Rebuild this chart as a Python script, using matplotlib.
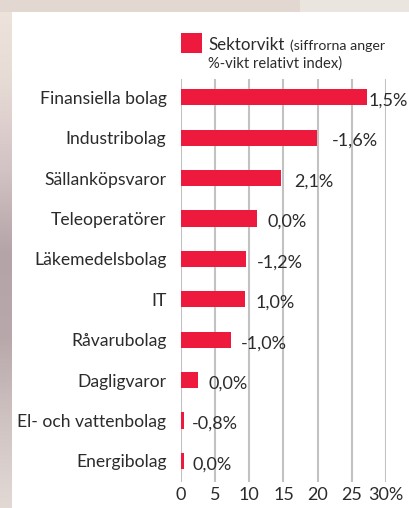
import matplotlib
matplotlib.use("Agg")
import matplotlib.pyplot as plt
import numpy as np
from matplotlib.patches import Rectangle
from matplotlib.colors import LinearSegmentedColormap

# data
sectors = ["Finansiella bolag", "Industribolag", "Sällanköpsvaror", "Teleoperatörer",
           "Läkemedelsbolag", "IT", "Råvarubolag", "Dagligvaror",
           "El- och vattenbolag", "Energibolag"]
weights = [27.2, 19.9, 14.7, 11.1, 9.5, 9.4, 7.3, 2.5, 0.4, 0.4]
relative = ["1,5%", "-1,6%", "2,1%", "0,0%", "-1,2%", "1,0%", "-1,0%", "0,0%", "-0,8%", "0,0%"]
xticks = [0, 5, 10, 15, 20, 25, 30]
xticklabels = ["0", "5", "10", "15", "20", "25", "30%"]

RED = "#ee1a3d"
TXT = "#2b2b2b"
FONT = "Lato"
plt.rcParams["font.family"] = [FONT, "DejaVu Sans"]

W, H = 410, 508
fig = plt.figure(figsize=(W / 100, H / 100), dpi=100)
fig.patch.set_facecolor("white")

# textured frame: top strip and left gradient strip
bg = fig.add_axes([0, 0, 1, 1])
bg.set_axis_off()
bg.set_xlim(0, W)
bg.set_ylim(H, 0)
cmap = LinearSegmentedColormap.from_list(
    "strip", ["#eee5dd", "#e6dad5", "#d2c3c4", "#b4a3a7", "#b8a8ab", "#d0c4c2", "#e2d9d5"])
ramp = np.linspace(0, 1, 256).reshape(-1, 1)
bg.imshow(ramp, cmap=cmap, extent=[0, 12, H, 0], aspect="auto")
bg.add_patch(Rectangle((0, 0), W, 12, color="#e2d7d1", lw=0))
bg.add_patch(Rectangle((300, 0), 110, 12, color="#ebe5e0", lw=0))

# main axes
ax = fig.add_axes([181 / W, 26 / H, 205 / W, 403 / H])
ax.set_facecolor("none")
y = np.arange(len(sectors))
ax.barh(y, weights, height=0.4, color=RED, zorder=3)

ax.set_xlim(0, 30)
ax.set_ylim(len(sectors) - 1 + 0.52, -0.45)
for t in xticks:
    ax.axvline(t, color="#c2c2c2", lw=1.5, zorder=1)
for s in ax.spines.values():
    s.set_visible(False)

ax.set_xticks(xticks)
ax.set_xticklabels(xticklabels)
ax.set_yticks(y)
ax.set_yticklabels(sectors)
ax.tick_params(axis="x", length=0, pad=3.5, labelsize=13, labelcolor=TXT)
ax.tick_params(axis="y", length=0, pad=10.5, labelsize=12.6, labelcolor=TXT)

# value labels next to bars
pads = [2, 15, 13, 11, 11, 10, 10, 10, 8, 9]
for i, (w, lab) in enumerate(zip(weights, relative)):
    ax.annotate(lab, (w, i), xytext=(pads[i] * 0.72, -2.5), textcoords="offset points",
                ha="left", va="center", fontsize=13, color=TXT, annotation_clip=False)

# legend
fig.patches.append(Rectangle((181 / W, 1 - 53 / H), 21 / W, 20 / H,
                             transform=fig.transFigure, color=RED, lw=0))
fig.text(208 / W, 1 - 50 / H, "Sektorvikt", fontsize=12.2, color=TXT, va="baseline")
fig.text(290 / W, 1 - 50 / H, "(siffrorna anger", fontsize=10.2, color=TXT, va="baseline")
fig.text(208 / W, 1 - 67.5 / H, "%-vikt relativt index)", fontsize=10.6, color=TXT, va="baseline")

fig.savefig("out.png", dpi=100)
